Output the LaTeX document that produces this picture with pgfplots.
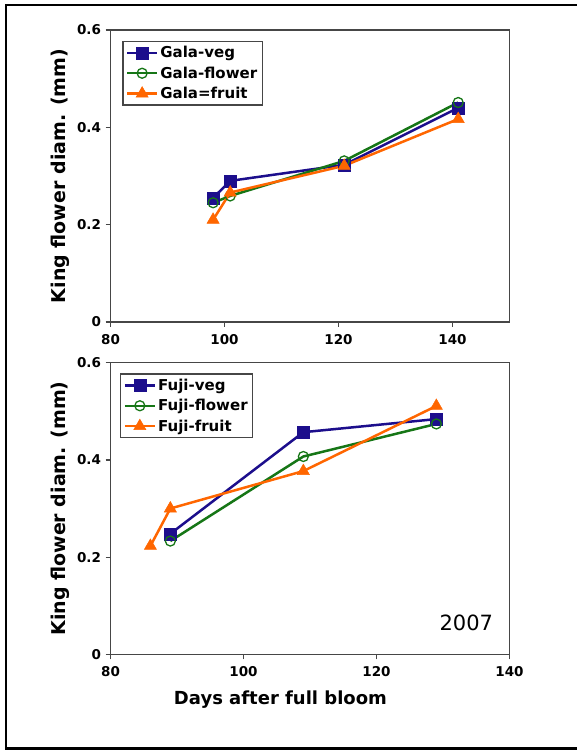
\documentclass[border=0pt]{standalone}
\usepackage{fontspec}
\setmainfont{DejaVu Sans}
\usepackage{pgfplots}
\pgfplotsset{compat=1.18}

\definecolor{vegblue}{RGB}{28,14,140}
\definecolor{flowergreen}{RGB}{22,118,22}
\definecolor{fruitorange}{RGB}{255,102,0}
\definecolor{axisgray}{RGB}{70,70,70}

\pgfplotsset{
  kfd/.style={
    scale only axis, width=399pt,
    xmin=80, ymin=0, ymax=0.6,
    xtick={80,100,120,140}, ytick={0,0.2,0.4,0.6},
    axis line style={axisgray, line width=1.2pt},
    tick style={axisgray, line width=1.2pt},
    tick align=outside, major tick length=5pt,
    xtick pos=bottom, ytick pos=left,
    /pgf/number format/assume math mode=true,
    ticklabel style={font=\fontsize{13.5}{16}\selectfont\bfseries},
    xticklabel style={yshift=-4pt},
    yticklabel style={xshift=-1pt},
    ylabel={King flower diam. (mm)},
    every axis y label/.style={at={(axis description cs:-0.125,0.5)}, rotate=90,
      anchor=center, font=\fontsize{19}{22}\selectfont\bfseries},
    legend cell align=left,
    legend style={draw=axisgray, line width=1.2pt, anchor=north west,
      font=\fontsize{15}{17}\selectfont\bfseries, inner sep=3pt, row sep=3.5pt},
    legend image code/.code={\draw[#1, mark repeat=2, mark phase=2]
      plot coordinates {(0pt,0pt) (15pt,0pt) (30pt,0pt)};},
  },
  veg/.style={vegblue, line width=2.5pt, mark=square*,
    mark options={solid, line width=0.5pt}, mark size=6pt},
  flower/.style={flowergreen, line width=2.5pt, mark=o,
    mark options={solid, line width=1.3pt, fill=white}, mark size=5pt},
  fruit/.style={fruitorange, line width=2.5pt, mark=triangle*,
    mark options={solid, line width=0.5pt}, mark size=7pt},
}

\begin{document}
\begin{tikzpicture}[x=1pt, y=1pt]
\useasboundingbox (0,0) rectangle (576,750);
% outer frame
\draw[line width=2.5pt] (600,1.5) -- (6,1.5) -- (6,745) -- (600,745);

% Gala
\begin{axis}[kfd, height=292pt, xmax=150, at={(110.5pt,428pt)}, anchor=south west,
  legend style={at={(axis description cs:0.0296,0.963)}}]
\addplot[veg] coordinates {(98,0.255) (101,0.290) (121,0.323) (141,0.440)};
\addplot[flower] coordinates {(98,0.245) (101,0.259) (121,0.331) (141,0.451)};
\addplot[fruit] coordinates {(98,0.210) (101,0.266) (121,0.321) (141,0.417)};
\legend{Gala-veg, Gala-flower, Gala=fruit}
\end{axis}

% Fuji
\begin{axis}[kfd, height=291.6pt, xmax=140, at={(110.5pt,95.7pt)}, anchor=south west,
  legend style={at={(axis description cs:0.0238,0.9636)}},
  xlabel={Days after full bloom},
  every axis x label/.style={at={(axis description cs:0.426,-0.157)}, anchor=center,
    font=\fontsize{18}{21}\selectfont\bfseries}]
\addplot[veg] coordinates {(89,0.248) (109,0.457) (129,0.484)};
\addplot[flower] coordinates {(89,0.233) (109,0.407) (129,0.474)};
\addplot[fruit] coordinates {(86,0.223) (89,0.300) (109,0.377) (129,0.511)};
\legend{Fuji-veg, Fuji-flower, Fuji-fruit}
\node[font=\fontsize{21}{25}\selectfont] at (axis cs:133.5,0.064) {2007};
\end{axis}
\end{tikzpicture}
\end{document}
